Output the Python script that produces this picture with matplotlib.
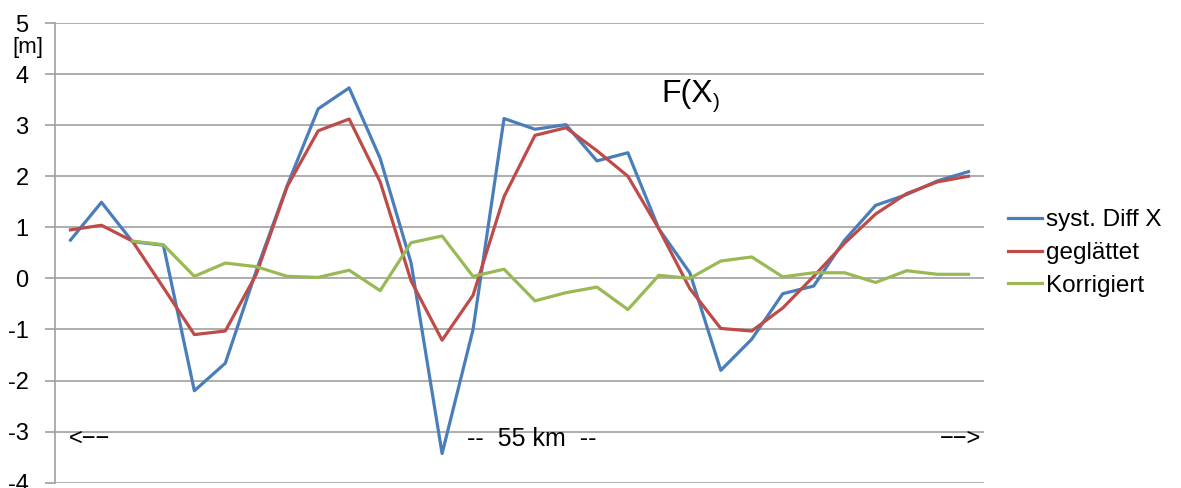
import matplotlib
matplotlib.use("Agg")
import matplotlib.pyplot as plt
import numpy as np

plt.rcParams['font.family'] = ['Liberation Sans', 'DejaVu Sans']
plt.rcParams['axes.unicode_minus'] = False

# 30 Messpunkte entlang der 55 km Strecke
syst_diff_x = [0.75, 1.49, 0.72, 0.65, -2.2, -1.66, 0.15, 1.82, 3.32, 3.73,
               2.35, 0.3, -3.43, -1.0, 3.13, 2.92, 3.01, 2.3, 2.46, 0.97,
               0.11, -1.8, -1.19, -0.3, -0.15, 0.75, 1.43, 1.64, 1.91, 2.09]
geglaettet = [0.95, 1.04, 0.73, -0.18, -1.1, -1.03, 0.08, 1.8, 2.89, 3.12,
              1.89, -0.05, -1.21, -0.33, 1.6, 2.8, 2.95, 2.5, 2.0, 0.97,
              -0.2, -0.98, -1.03, -0.58, 0.04, 0.69, 1.26, 1.66, 1.89, 2.0]
korrigiert = [np.nan, np.nan, 0.73, 0.66, 0.04, 0.3, 0.23, 0.04, 0.02, 0.16,
              -0.24, 0.7, 0.83, 0.04, 0.18, -0.44, -0.28, -0.17, -0.61, 0.06,
              0.0, 0.34, 0.42, 0.03, 0.11, 0.11, -0.08, 0.15, 0.08, 0.08]
y_ticks = list(range(-4, 6))

x = np.arange(len(syst_diff_x))

fig = plt.figure(figsize=(11.81, 4.88), dpi=100)
ax = fig.add_axes([55/1181, 1 - 482.7/488, 929/1181, (482.7 - 23)/488])

ax.plot(x, syst_diff_x, color="#4a7ebb", lw=2.3, label="syst. Diff X")
ax.plot(x, geglaettet, color="#be4b48", lw=2.3, label="geglättet")
ax.plot(x, korrigiert, color="#98b954", lw=2.3, label="Korrigiert")

ax.set_xlim(-0.5, len(x) - 0.5)
ax.set_ylim(-4, 5)
ax.set_yticks(y_ticks)
ax.set_xticks([])
ax.yaxis.grid(True, color="#a0a0a0", lw=1.2)
ax.set_axisbelow(True)
for s in ["top", "right", "bottom"]:
    ax.spines[s].set_visible(False)
ax.spines["left"].set_color("#a0a0a0")
ax.spines["left"].set_linewidth(1.2)
ax.tick_params(axis="y", length=7, width=1.2, color="#a0a0a0", pad=12,
               labelsize=17)

fig.text(28/1181, 1 - 47/488, "[m]", fontsize=16, ha="center", va="center")

# Titel F(X) mit kleinerer schliessender Klammer
t = fig.text(661/1181, 1 - 102/488, "F(X", fontsize=23, ha="left",
             va="baseline")
ax.annotate(")", xy=(1, 0), xycoords=t, xytext=(0.5, -2.5),
            textcoords="offset points", fontsize=15, ha="left",
            va="bottom")

ytr = ax.get_yaxis_transform()
ax.text(0.015, -3.15, "<\u2212\u2212", fontsize=17, ha="left", va="center",
        transform=ytr)
ax.text(0.443, -3.15, "--  55 km  --", fontsize=18, ha="left", va="center",
        transform=ytr)
ax.text(0.997, -3.15, "\u2212\u2212>", fontsize=17, ha="right", va="center",
        transform=ytr)

ax.legend(loc="center left", bbox_to_anchor=(1008/1181, 1 - 253/488),
          bbox_transform=fig.transFigure, frameon=False, fontsize=17.5,
          handlelength=1.4, handletextpad=0.15, borderpad=0,
          borderaxespad=0, labelspacing=0.45)

fig.savefig("out.png", dpi=100)
